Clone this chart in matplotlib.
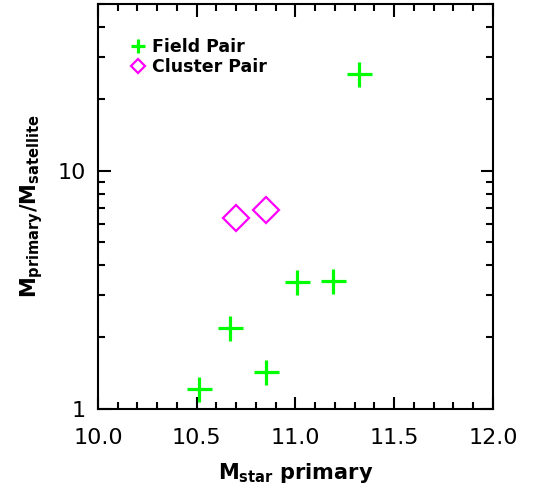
import numpy as np
import matplotlib.pyplot as plt
from matplotlib.ticker import MultipleLocator, FixedLocator, NullFormatter, FixedFormatter

# field pairs
field_mstar = [10.51, 10.67, 10.85, 11.01, 11.19, 11.32]
field_ratio = [1.21, 2.18, 1.43, 3.41, 3.44, 25.5]
# cluster pairs
clus_mstar = [10.70, 10.85]
clus_ratio = [6.31, 6.86]

plt.rcParams['mathtext.fontset'] = 'dejavusans'

fig = plt.figure(figsize=(5.37, 4.86), dpi=100)
ax = fig.add_axes([0.1825, 0.1584, 0.7355, 0.8334])

ax.plot(field_mstar, field_ratio, '+', color='#00ff00', ms=18, mew=2.3, ls='none', label='Field Pair')
ax.plot(clus_mstar, clus_ratio, 'D', mfc='none', mec='#ff00ff', ms=13, mew=1.6, ls='none', label='Cluster Pair')

ax.set_xlim(10.0, 12.0)
ax.set_yscale('log')
ax.set_ylim(1, 50)

ax.xaxis.set_major_locator(FixedLocator([10.0, 10.5, 11.0, 11.5, 12.0]))
ax.xaxis.set_major_formatter(FixedFormatter(['10.0', '10.5', '11.0', '11.5', '12.0']))
ax.xaxis.set_minor_locator(MultipleLocator(0.1))
ax.yaxis.set_major_locator(FixedLocator([1, 10]))
ax.yaxis.set_major_formatter(FixedFormatter(['1', '10']))
ax.yaxis.set_minor_locator(FixedLocator([2, 3, 4, 5, 6, 7, 8, 9, 20, 30, 40, 50]))
ax.yaxis.set_minor_formatter(NullFormatter())

ax.tick_params(which='both', direction='in', top=True, right=True, width=1.5, labelsize=16)
ax.tick_params(which='major', length=9)
ax.tick_params(which='minor', length=5)
ax.tick_params(axis='x', which='major', pad=14)
ax.tick_params(axis='y', which='major', pad=9)
for s in ax.spines.values():
    s.set_linewidth(1.5)

ax.set_xlabel(r'$\mathbf{M_{star}}$ primary', fontsize=15, fontweight='bold', labelpad=9)
ax.set_ylabel(r'$\mathbf{M_{primary}/M_{satellite}}$', fontsize=15, labelpad=9)

leg = ax.legend(loc='upper left', bbox_to_anchor=(0.045, 0.955), frameon=False, markerscale=0.55,
                handlelength=0.8, handletextpad=0.4, labelspacing=0.15,
                prop={'weight': 'bold', 'size': 12.5})

fig.savefig('out.png', dpi=100)
